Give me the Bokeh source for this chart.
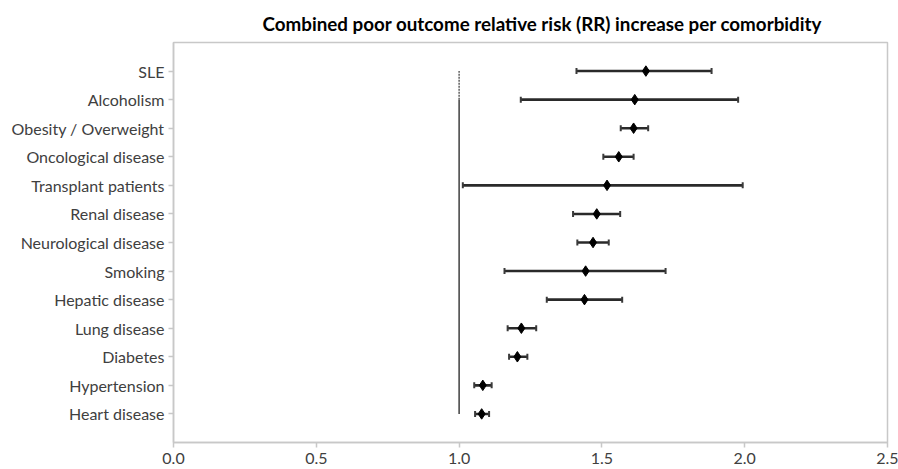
from bokeh.plotting import figure
from bokeh.models import (ColumnDataSource, Whisker, TeeHead, FactorRange, Range1d,
                          NumeralTickFormatter, FixedTicker, Title)
from bokeh.embed import file_html
from bokeh.resources import INLINE

categories = ["Heart disease", "Hypertension", "Diabetes", "Lung disease",
              "Hepatic disease", "Smoking", "Neurological disease", "Renal disease",
              "Transplant patients", "Oncological disease", "Obesity / Overweight",
              "Alcoholism", "SLE"]
rr = [1.079, 1.083, 1.204, 1.218, 1.439, 1.443, 1.469, 1.482, 1.518, 1.559, 1.611, 1.615, 1.654]
ci_low = [1.056, 1.053, 1.175, 1.170, 1.307, 1.159, 1.414, 1.399, 1.013, 1.505, 1.566, 1.216, 1.411]
ci_high = [1.105, 1.114, 1.239, 1.270, 1.571, 1.723, 1.524, 1.564, 1.993, 1.611, 1.662, 1.977, 1.884]
x_ticks = [0.0, 0.5, 1.0, 1.5, 2.0, 2.5]
reference_rr = 1.0
title_text = "Combined poor outcome relative risk (RR)  increase per comorbidity"

FONT = "Lato"
GRAY = "#c8c8c8"
LABEL = "#404040"

src = ColumnDataSource(dict(cat=categories, rr=rr, lo=ci_low, hi=ci_high))

p = figure(width=898, height=469, output_backend="svg", toolbar_location=None,
           x_range=Range1d(x_ticks[0], x_ticks[-1]),
           y_range=FactorRange(factors=categories, range_padding=0.5,
                               range_padding_units="absolute"),
           min_border_left=173, min_border_right=11, min_border_top=42,
           min_border_bottom=27, background_fill_color="white",
           border_fill_color="white")

p.title = Title(text=title_text, align="left", offset=89, text_font=FONT,
                text_font_size="18.8px", text_font_style="bold", text_color="black",
                standoff=16)

p.grid.visible = False
p.outline_line_color = GRAY
p.outline_line_width = 1.5

# reference line at RR = 1
p.segment(x0=[reference_rr], y0=[categories[0]], x1=[reference_rr], y1=[categories[-2]],
          line_color="#222222", line_width=1.3)
p.segment(x0=[reference_rr], y0=[categories[-2]], x1=[reference_rr], y1=[categories[-1]],
          line_color="#444444", line_width=1.3, line_dash="2 1")

w = Whisker(source=src, base="cat", lower="lo", upper="hi", dimension="width",
            line_color="#2a2a2a", line_width=2.6,
            lower_head=TeeHead(size=6, line_color="#3a3a3a", line_width=2),
            upper_head=TeeHead(size=6, line_color="#3a3a3a", line_width=2))
p.add_layout(w)

p.scatter(x="rr", y="cat", source=src, marker="diamond", size=10.5,
          fill_color="black", line_color="black", line_width=1)

# axes
p.xaxis.ticker = FixedTicker(ticks=x_ticks)
p.xaxis.formatter = NumeralTickFormatter(format="0.0")
for ax in (p.xaxis[0], p.yaxis[0]):
    ax.axis_line_color = GRAY
    ax.axis_line_width = 1.5
    ax.major_tick_line_color = GRAY
    ax.major_tick_line_width = 1.5
    ax.minor_tick_line_color = None
    ax.major_tick_in = 0
    ax.major_tick_out = 5
    ax.major_label_text_font = FONT
    ax.major_label_text_color = LABEL
p.xaxis.major_label_text_font_size = "16px"
p.xaxis.major_label_standoff = 5
p.yaxis.major_label_text_font_size = "16px"
p.yaxis.major_label_standoff = 4

open("out.html", "w").write(file_html(p, INLINE))
